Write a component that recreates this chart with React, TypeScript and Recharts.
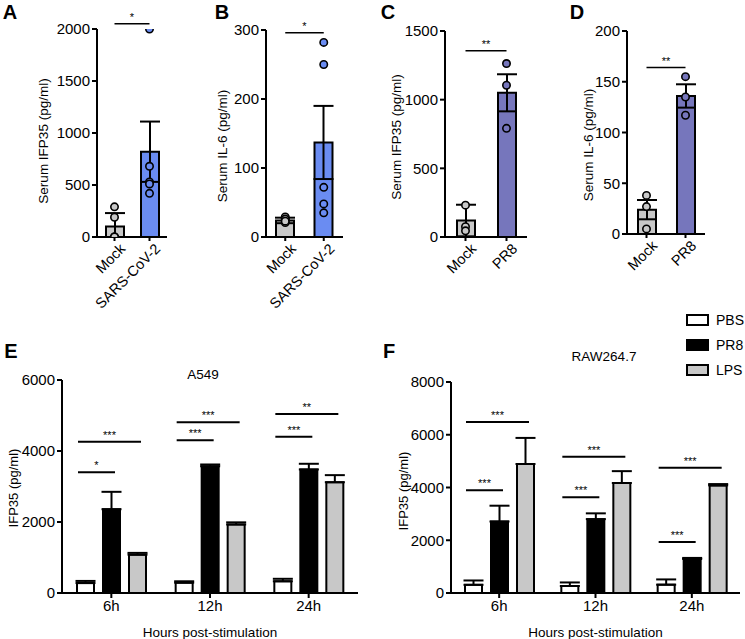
import React from 'react';
import { ComposedChart, BarChart, Bar, XAxis, YAxis, ErrorBar, Scatter, ReferenceLine, Legend, Cell } from 'recharts';

const FONT = '"Liberation Sans", Arial, Helvetica, sans-serif';

// ---------- Panel A ----------
const catsA = ['Mock', 'SARS-CoV-2'];
const meanA = [100, 820];
const errLowA = [100, 290];
const errHighA = [130, 290];
const pointsA = [[0, 0, 0, 190, 290], [2000, 680, 530, 510, 420]];
const ticksA = [0, 500, 1000, 1500, 2000];
const sigA = 2050;
const sigLabelA = '*';

// ---------- Panel B ----------
const catsB = ['Mock', 'SARS-CoV-2'];
const meanB = [24, 137];
const errLowB = [4, 53];
const errHighB = [4, 53];
const pointsB = [[21, 27, 29, 26, 23], [282, 250, 72, 48, 35]];
const ticksB = [0, 100, 200, 300];
const sigB = 296;
const sigLabelB = '*';

// ---------- Panel C ----------
const catsC = ['Mock', 'PR8'];
const meanC = [120, 1050];
const errLowC = [115, 135];
const errHighC = [115, 135];
const pointsC = [[232, 75, 45], [1263, 1105, 791]];
const ticksC = [0, 500, 1000, 1500];
const sigC = 1357;
const sigLabelC = '**';

// ---------- Panel D ----------
const catsD = ['Mock', 'PR8'];
const meanD = [24, 136];
const errLowD = [9.5, 11.5];
const errHighD = [9.5, 11.5];
const pointsD = [[38, 27, 5], [155, 135, 117]];
const ticksD = [0, 50, 100, 150, 200];
const sigD = 164;
const sigLabelD = '**';

// ---------- Panel E (A549) ----------
const times = ['6h', '12h', '24h'];
const seriesNames = ['PBS', 'PR8', 'LPS'];
const pbsE = [280, 290, 330];
const pbsErrE = [60, 40, 70];
const pr8E = [2360, 3570, 3480];
const pr8ErrE = [490, 50, 160];
const lpsE = [1080, 1930, 3120];
const lpsErrE = [50, 60, 200];
const sigPr8E = [3400, 4300, 4400];
const sigPr8LabelE = ['*', '***', '***'];
const sigLpsE = [4260, 4810, 5040];
const sigLpsLabelE = ['***', '***', '**'];
const ticksE = [0, 2000, 4000, 6000];

// ---------- Panel F (RAW264.7) ----------
const pbsF = [310, 265, 315];
const pbsErrF = [165, 135, 200];
const pr8F = [2710, 2800, 1290];
const pr8ErrF = [600, 220, 40];
const lpsF = [4890, 4170, 4080];
const lpsErrF = [990, 450, 50];
const sigPr8F = [3900, 3630, 1930];
const sigPr8LabelF = ['***', '***', '***'];
const sigLpsF = [6480, 5170, 4750];
const sigLpsLabelF = ['***', '***', '***'];
const ticksF = [0, 2000, 4000, 6000, 8000];

const GRAY = '#C8C8C8';
const BLUE = '#6A8CF2';
const PURPLE = '#7676BC';

function buildRows(cats: string[], means: number[], lows: number[], highs: number[], points: number[][], colors: string[]) {
  return cats.map((name, i) => {
    const row: any = { name, mean: means[i], err: [lows[i], highs[i]], color: colors[i] };
    points[i].forEach((v, j) => { row['p' + j] = v; });
    return row;
  });
}

function buildGroupRows(pbs: number[], pbsErr: number[], pr8: number[], pr8Err: number[], lps: number[], lpsErr: number[], sPr8: number[], sPr8L: string[], sLps: number[], sLpsL: string[]) {
  return times.map((time, i) => ({
    time,
    pbs: pbs[i], pbsErr: [0, pbsErr[i]],
    pr8: pr8[i], pr8Err: [0, pr8Err[i]],
    lps: lps[i], lpsErr: [0, lpsErr[i]],
    sigPr8: sPr8[i], sigPr8Label: sPr8L[i],
    sigLps: sLps[i], sigLpsLabel: sLpsL[i],
  }));
}

const rowsA = buildRows(catsA, meanA, errLowA, errHighA, pointsA, [GRAY, BLUE]);
const rowsB = buildRows(catsB, meanB, errLowB, errHighB, pointsB, [GRAY, BLUE]);
const rowsC = buildRows(catsC, meanC, errLowC, errHighC, pointsC, [GRAY, PURPLE]);
const rowsD = buildRows(catsD, meanD, errLowD, errHighD, pointsD, [GRAY, PURPLE]);
const rowsE = buildGroupRows(pbsE, pbsErrE, pr8E, pr8ErrE, lpsE, lpsErrE, sigPr8E, sigPr8LabelE, sigLpsE, sigLpsLabelE);
const rowsF = buildGroupRows(pbsF, pbsErrF, pr8F, pr8ErrF, lpsF, lpsErrF, sigPr8F, sigPr8LabelF, sigLpsF, sigLpsLabelF);

const axisLine = { stroke: '#000', strokeWidth: 2 };
const tickStyle = { fill: '#000', fontSize: 15, fontFamily: FONT };

const RotTick = (props: any) => {
  const { x, y, payload } = props;
  return (
    <g transform={`translate(${x + 4},${y - 1})`}>
      <text x={0} y={0} dy="0.75em" textAnchor="end" transform="rotate(-45)" fill="#000" fontSize={14.5} fontFamily={FONT}>
        {payload.value}
      </text>
    </g>
  );
};

const yLabel = (text: string, cx: number, cy: number, size: number) => () => (
  <text x={cx} y={cy} transform={`rotate(-90 ${cx} ${cy})`} textAnchor="middle" dominantBaseline="central" fill="#000" fontSize={size} fontFamily={FONT}>
    {text}
  </text>
);

const PointDot = (props: any) => {
  const { cx, cy, payload } = props;
  if (cx == null || cy == null || isNaN(cx) || isNaN(cy)) return <g />;
  return <circle cx={cx} cy={cy} r={3.7} fill={payload.color} stroke="#000" strokeWidth={1.6} />;
};

type SmallProps = {
  left: number; width: number; rows: any[]; ticks: number[]; npts: number;
  sig: number; sigLabel: string; yTitle: string; yAxisWidth: number; marginTop: number;
  marginRight: number; xAxisHeight: number; labelX: number; labelY: number;
};

function SmallPanel(p: SmallProps) {
  const yMax = p.ticks[p.ticks.length - 1];
  return (
    <div style={{ position: 'absolute', left: p.left, top: 0 }}>
      <ComposedChart width={p.width} height={320} data={p.rows} barSize={18}
        margin={{ top: p.marginTop, right: p.marginRight, bottom: 3, left: 0 }}>
        <XAxis dataKey="name" height={p.xAxisHeight} interval={0} tick={<RotTick />} tickSize={4}
          axisLine={axisLine} tickLine={axisLine} />
        <YAxis type="number" domain={[0, yMax]} ticks={p.ticks} allowDataOverflow width={p.yAxisWidth}
          tickSize={5} tickMargin={2} axisLine={axisLine} tickLine={axisLine} tick={tickStyle}
          label={yLabel(p.yTitle, p.labelX, p.labelY, 13.5)} />
        <Bar dataKey="mean" stroke="#000" strokeWidth={2} isAnimationActive={false}>
          {p.rows.map((r, i) => <Cell key={i} fill={r.color} />)}
          <ErrorBar dataKey="err" width={10} stroke="#000" strokeWidth={2} direction="y" />
        </Bar>
        {Array.from({ length: p.npts }).map((_, j) => (
          <Scatter key={j} dataKey={'p' + j} isAnimationActive={false} shape={PointDot} />
        ))}
        <ReferenceLine ifOverflow="visible" stroke="#000" strokeWidth={1.5}
          segment={[{ x: p.rows[0].name, y: p.sig }, { x: p.rows[1].name, y: p.sig }]}
          label={{ value: p.sigLabel, position: 'top', fontSize: 11, fill: '#000', offset: 3 }} />
      </ComposedChart>
    </div>
  );
}

const BAR_SIZE = 17;
const BAR_GAP = 9;

const PbsShape = (props: any) => {
  const { x, y, width, height, payload, fill } = props;
  const k = height / payload.pbs;
  const base = y + height;
  const yPr8 = base - payload.sigPr8 * k;
  const yLps = base - payload.sigLps * k;
  const x0 = x + 1;
  const x1 = x + 2 * width + BAR_GAP - 5;
  const x2 = x + 3 * width + 2 * BAR_GAP - 5;
  return (
    <g>
      <rect x={x} y={y} width={width} height={height} fill={fill} stroke="#000" strokeWidth={2} />
      <line x1={x0} x2={x1} y1={yPr8} y2={yPr8} stroke="#000" strokeWidth={2} />
      <text x={(x0 + x1) / 2} y={yPr8 - 3} textAnchor="middle" fontSize={11} fill="#000" fontFamily={FONT}>{payload.sigPr8Label}</text>
      <line x1={x0} x2={x2} y1={yLps} y2={yLps} stroke="#000" strokeWidth={2} />
      <text x={(x0 + x2) / 2} y={yLps - 3} textAnchor="middle" fontSize={11} fill="#000" fontFamily={FONT}>{payload.sigLpsLabel}</text>
    </g>
  );
};

const LegendContent = (props: any) => {
  const items = [...(props.payload || [])].sort(
    (a: any, b: any) => seriesNames.indexOf(a.value) - seriesNames.indexOf(b.value)
  );
  return (
    <div style={{ fontFamily: FONT }}>
      {items.map((e: any, i: number) => (
        <div key={i} style={{ display: 'flex', alignItems: 'center', height: 25 }}>
          <svg width={23} height={12}>
            <rect x={1} y={1} width={21} height={10} fill={e.payload?.fill ?? e.color} stroke="#000" strokeWidth={2} />
          </svg>
          <span style={{ marginLeft: 7, fontSize: 14, color: '#000' }}>{e.value}</span>
        </div>
      ))}
    </div>
  );
};

type GroupProps = {
  left: number; top: number; width: number; height: number; rows: any[]; ticks: number[];
  marginTop: number; marginLeft: number; marginRight: number; yAxisWidth: number;
  labelX: number; labelY: number; legend?: boolean;
};

function GroupPanel(p: GroupProps) {
  const yMax = p.ticks[p.ticks.length - 1];
  return (
    <div style={{ position: 'absolute', left: p.left, top: p.top }}>
      <BarChart width={p.width} height={p.height} data={p.rows} barSize={BAR_SIZE} barGap={BAR_GAP}
        margin={{ top: p.marginTop, right: p.marginRight, bottom: 2, left: p.marginLeft }}>
        <XAxis dataKey="time" height={44} tickSize={5} tickMargin={2} axisLine={axisLine} tickLine={axisLine}
          tick={tickStyle}
          label={{ value: 'Hours post-stimulation', position: 'insideBottom', offset: 0, fill: '#000', fontSize: 13.5, fontFamily: FONT }} />
        <YAxis type="number" domain={[0, yMax]} ticks={p.ticks} allowDataOverflow width={p.yAxisWidth}
          tickSize={5} tickMargin={2} axisLine={axisLine} tickLine={axisLine} tick={tickStyle}
          label={yLabel('IFP35 (pg/ml)', p.labelX, p.labelY, 13)} />
        <Bar dataKey="pbs" name={seriesNames[0]} fill="#FFFFFF" stroke="#000" strokeWidth={2} isAnimationActive={false} shape={PbsShape}>
          <ErrorBar dataKey="pbsErr" width={10} stroke="#000" strokeWidth={2} direction="y" />
        </Bar>
        <Bar dataKey="pr8" name={seriesNames[1]} fill="#000000" stroke="#000" strokeWidth={2} isAnimationActive={false}>
          <ErrorBar dataKey="pr8Err" width={10} stroke="#000" strokeWidth={2} direction="y" />
        </Bar>
        <Bar dataKey="lps" name={seriesNames[2]} fill={GRAY} stroke="#000" strokeWidth={2} isAnimationActive={false}>
          <ErrorBar dataKey="lpsErr" width={10} stroke="#000" strokeWidth={2} direction="y" />
        </Bar>
        {p.legend && (
          <Legend layout="vertical" align="center" verticalAlign="middle" content={LegendContent}
            wrapperStyle={{ left: 316, top: 7, width: 60 }} />
        )}
      </BarChart>
    </div>
  );
}

const Txt = ({ x, y, size, bold, children }: any) => (
  <div style={{
    position: 'absolute', left: x, top: y, transform: 'translate(-50%, -50%)', whiteSpace: 'nowrap',
    fontSize: size, fontWeight: bold ? 700 : 400, lineHeight: 1, fontFamily: FONT, color: '#000',
  }}>{children}</div>
);

export default function App() {
  return (
    <div style={{ position: 'absolute', left: 0, top: 0, width: 745, height: 639, background: '#fff', fontFamily: FONT, overflow: 'hidden' }}>
      <SmallPanel left={0} width={180} rows={rowsA} ticks={ticksA} npts={5} sig={sigA} sigLabel={sigLabelA}
        yTitle="Serum IFP35 (pg/ml)" yAxisWidth={97} marginTop={29} marginRight={13} xAxisHeight={80} labelX={43} labelY={141} />
      <SmallPanel left={180} width={180} rows={rowsB} ticks={ticksB} npts={5} sig={sigB} sigLabel={sigLabelB}
        yTitle="Serum IL-6 (pg/ml)" yAxisWidth={86} marginTop={30} marginRight={17} xAxisHeight={80} labelX={42} labelY={146} />
      <SmallPanel left={360} width={180} rows={rowsC} ticks={ticksC} npts={3} sig={sigC} sigLabel={sigLabelC}
        yTitle="Serum IFP35 (pg/ml)" yAxisWidth={85} marginTop={31} marginRight={13} xAxisHeight={80} labelX={36} labelY={137} />
      <SmallPanel left={540} width={205} rows={rowsD} ticks={ticksD} npts={3} sig={sigD} sigLabel={sigLabelD}
        yTitle="Serum IL-6 (pg/ml)" yAxisWidth={87} marginTop={31} marginRight={40} xAxisHeight={83} labelX={48} labelY={145} />
      <GroupPanel left={0} top={320} width={370} height={319} rows={rowsE} ticks={ticksE}
        marginTop={60} marginLeft={12} marginRight={12} yAxisWidth={50} labelX={13} labelY={168} />
      <GroupPanel left={370} top={300} width={375} height={339} rows={rowsF} ticks={ticksF}
        marginTop={82} marginLeft={20} marginRight={5} yAxisWidth={61} labelX={33} labelY={191} legend />
      <Txt x={203} y={375} size={13.5}>A549</Txt>
      <Txt x={604} y={357} size={13.5}>RAW264.7</Txt>
      <Txt x={10} y={12} size={20} bold>A</Txt>
      <Txt x={222} y={12} size={20} bold>B</Txt>
      <Txt x={388} y={12} size={20} bold>C</Txt>
      <Txt x={577} y={12} size={20} bold>D</Txt>
      <Txt x={11} y={351} size={20} bold>E</Txt>
      <Txt x={389} y={351} size={20} bold>F</Txt>
    </div>
  );
}
